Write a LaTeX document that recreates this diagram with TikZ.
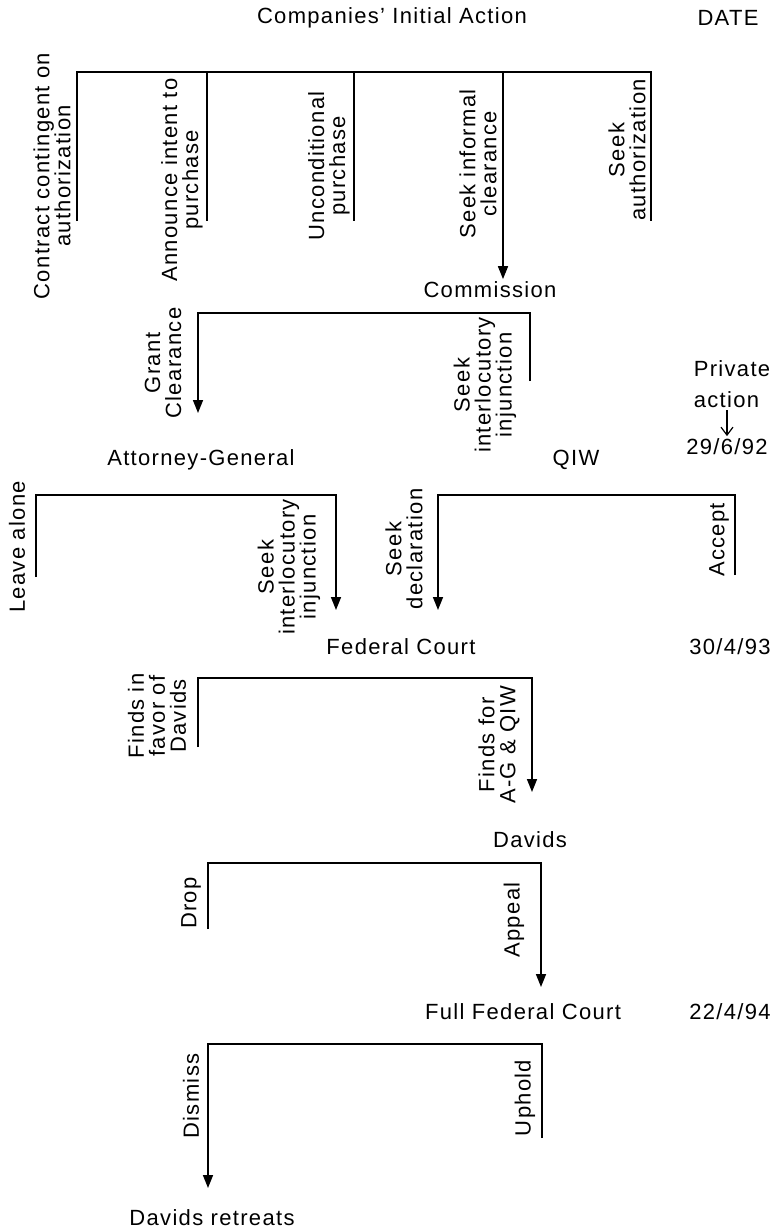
\documentclass[tikz,border=0pt]{standalone}
\usepackage{fontspec}
\setmainfont[LetterSpace=6]{Liberation Sans}
\usetikzlibrary{arrows.meta}
\tikzset{>={Triangle[length=6.5pt,width=5pt]},
         every node/.style={font=\fontsize{11}{10.5}\selectfont, inner sep=1pt},
         choice/.style={rotate=90, align=center},
         every path/.style={line width=0.8pt}}

\begin{document}
\begin{tikzpicture}[x=0.5pt,y=-0.5pt]
  \useasboundingbox (0,0) rectangle (782,1231);
  % actors and dates
  \node (title) at (392,18) {Companies' Initial Action};
  \node (date) at (728,18) {DATE};
  \node (comm) at (490,290) {Commission};
  \node (ag) at (201,460) {Attorney-General};
  \node (qiw) at (576,460) {QIW};
  \node[align=left, anchor=west] (priv) at (691,384) {Private\\[5pt]action};
  \node (d92) at (727,447) {29/6/92};
  \node (court) at (401,647) {Federal Court};
  \node (d93) at (730,647) {30/4/93};
  \node (dav) at (530,840) {Davids};
  \node (fullcourt) at (523,1012) {Full Federal Court};
  \node (d94) at (730,1012) {22/4/94};
  \node (retreat) at (212,1218) {Davids retreats};
  \draw[-{Straight Barb[length=4pt,width=6pt]}, line width=0.6pt]
    (priv.south -| d92.north) -- (d92.north);

  % choices
  \node[choice] (contract) at (52,176) {Contract contingent on\\authorization};
  \node[choice] (announce) at (182,180) {Announce intent to\\purchase};
  \node[choice] (uncond) at (329,166) {Unconditional\\purchase};
  \node[choice] (informal) at (478,164) {Seek informal\\clearance};
  \node[choice] (seekauth) at (627,150) {Seek\\authorization};
  \node[choice] (grant) at (163,363) {Grant\\Clearance};
  \node[choice] (cminj) at (485,385) {Seek\\interlocutory\\injunction};
  \node[choice] (leave) at (17,547) {Leave alone};
  \node[choice] (aginj) at (289,567) {Seek\\interlocutory\\injunction};
  \node[choice] (declare) at (404,549) {Seek\\declaration};
  \node[choice] (accept) at (719,540) {Accept};
  \node[choice] (favdav) at (157,716) {Finds in\\favor of\\Davids};
  \node[choice] (favag) at (499,745) {Finds for\\A-G \& QIW};
  \node[choice] (drop) at (191,903) {Drop};
  \node[choice] (appeal) at (514,920) {Appeal};
  \node[choice] (dismiss) at (191,1096) {Dismiss};
  \node[choice] (uphold) at (525,1098) {Uphold};

  % Companies' initial action
  \coordinate (ci1) at (77,72);
  \coordinate (ci2) at (207,72);
  \coordinate (ci3) at (354,72);
  \coordinate (ci4) at (503,72);
  \coordinate (ci5) at (651,72);
  \coordinate (ci-end) at (0,221);
  \draw (ci1 |- ci-end) -- (ci1) -- (ci5) -- (ci5 |- ci-end);
  \draw (ci2) -- (ci2 |- ci-end);
  \draw (ci3) -- (ci3 |- ci-end);
  \draw[->] (ci4) -- (ci4 |- comm.north);

  % Commission
  \coordinate (cm1) at (198,313);
  \coordinate (cm2) at (530,313);
  \coordinate (cm-end) at (0,381);
  \coordinate (cm-tip) at (0,413);
  \draw[->] (cm2 |- cm-end) -- (cm2) -- (cm1) -- (cm1 |- cm-tip);

  % Attorney-General
  \coordinate (ag1) at (36,495);
  \coordinate (ag2) at (336,495);
  \coordinate (ag-end) at (0,577);
  \coordinate (ag-tip) at (0,610);
  \draw[->] (ag1 |- ag-end) -- (ag1) -- (ag2) -- (ag2 |- ag-tip);

  % QIW
  \coordinate (qw1) at (438,495);
  \coordinate (qw2) at (735,495);
  \coordinate (qw-end) at (0,575);
  \coordinate (qw-tip) at (0,610);
  \draw[->] (qw2 |- qw-end) -- (qw2) -- (qw1) -- (qw1 |- qw-tip);

  % Federal Court
  \coordinate (fc1) at (198,678);
  \coordinate (fc2) at (532,678);
  \coordinate (fc-end) at (0,747);
  \coordinate (fc-tip) at (0,792);
  \draw[->] (fc1 |- fc-end) -- (fc1) -- (fc2) -- (fc2 |- fc-tip);

  % Davids
  \coordinate (dv1) at (208,863);
  \coordinate (dv2) at (541,863);
  \coordinate (dv-end) at (0,929);
  \coordinate (dv-tip) at (0,987);
  \draw[->] (dv1 |- dv-end) -- (dv1) -- (dv2) -- (dv2 |- dv-tip);

  % Full Federal Court
  \coordinate (ff1) at (208,1044);
  \coordinate (ff2) at (542,1044);
  \coordinate (ff-end) at (0,1138);
  \coordinate (ff-tip) at (0,1188);
  \draw[->] (ff2 |- ff-end) -- (ff2) -- (ff1) -- (ff1 |- ff-tip);
\end{tikzpicture}
\end{document}
